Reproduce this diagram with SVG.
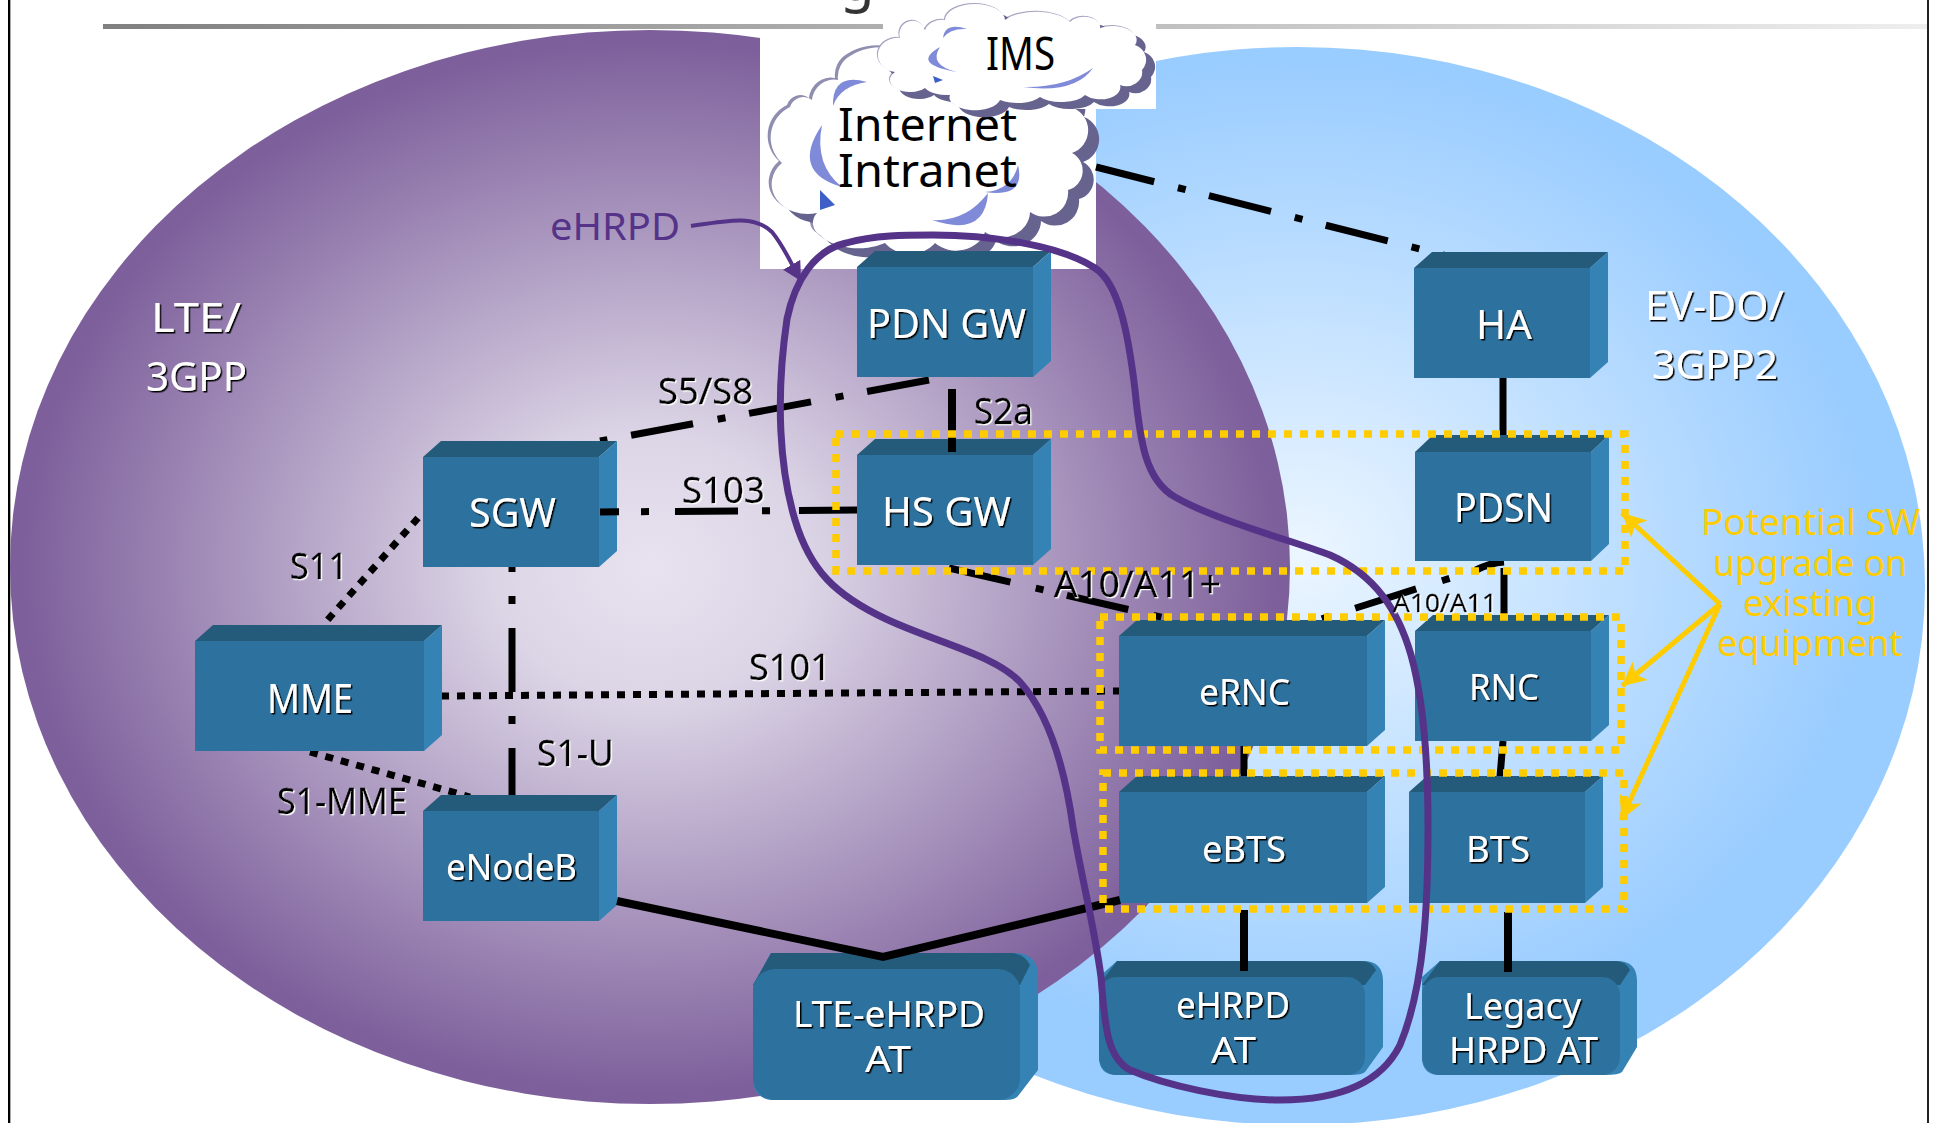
<svg xmlns="http://www.w3.org/2000/svg" xmlns:xlink="http://www.w3.org/1999/xlink" width="1940" height="1123" viewBox="0 0 1940 1123">
<style>
text{font-family:"Noto Sans","Liberation Sans",sans-serif}
.f{fill:#2d729e}.t{fill:#255b7a}.s{fill:#3582b5}
.w{fill:#fff;filter:url(#sb)}
.k{fill:#000;stroke:#000;stroke-width:.3;filter:url(#sw)}
.b{fill:#000}
.y{fill:#ffcc00}
.c{fill:none;stroke:#000;stroke-width:7}
.z{fill:none;stroke:#ffcc00;stroke-width:7.5;stroke-dasharray:8 8}
.ya{fill:none;stroke:#ffcc00;stroke-width:5;marker-end:url(#ah)}
.cr{fill:#7f8ad8}
</style>
<defs>
<radialGradient id="gp" cx="0.5" cy="0.5" r="0.49"><stop offset="0" stop-color="#e8e2f0"/><stop offset="0.25" stop-color="#dcd5e6"/><stop offset="1" stop-color="#7d5f9b"/></radialGradient>
<radialGradient id="gb" cx="0.5" cy="0.47" r="0.46"><stop offset="0" stop-color="#ecf6ff"/><stop offset="1" stop-color="#99ccff"/></radialGradient>
<linearGradient id="gl" gradientUnits="userSpaceOnUse" x1="103" y1="0" x2="1927" y2="0"><stop offset="0" stop-color="#808080"/><stop offset="1" stop-color="#eeeeee"/></linearGradient>
<filter id="sb" x="-10%" y="-20%" width="120%" height="140%"><feDropShadow dx="1.5" dy="1.5" stdDeviation="0" flood-color="#000"/></filter>
<filter id="sw" x="-10%" y="-20%" width="120%" height="140%"><feDropShadow dx="1.2" dy="1.2" stdDeviation="0" flood-color="#fff"/></filter>
<marker id="ah" markerUnits="userSpaceOnUse" markerWidth="26" markerHeight="26" refX="20" refY="10" orient="auto" viewBox="0 0 22 20"><path d="M0 0L20 10L0 20L5 10Z" fill="#ffcc00"/></marker>
<marker id="ap" markerUnits="userSpaceOnUse" markerWidth="20" markerHeight="20" refX="15" refY="8" orient="auto" viewBox="0 0 16 16"><path d="M0 0L15 8L0 16Z" fill="#553388"/></marker>
<path id="cm" d="M817 213A36 30 0 0 1 782 163A34 34 0 0 1 790 107A14 14 0 0 1 812 100A22 22 0 0 1 838 80A24 24 0 0 1 850 56A44 30 0 0 1 890 48L1050 60A40 40 0 0 1 1073 108A24 24 0 0 1 1072 153A20 20 0 0 1 1068 190A24 24 0 0 1 1030 212A28 26 0 0 1 985 232A30 26 0 0 1 935 243A30 24 0 0 1 885 243A44 26 0 0 1 820 235A14 14 0 0 1 817 213Z"/>
<path id="ci" d="M895 72A16 14 0 0 1 900 38A12 12 0 0 1 925 30A18 14 0 0 1 945 20A30 16 0 0 1 1005 20A36 16 0 0 1 1070 22A16 10 0 0 1 1100 28A24 14 0 0 1 1135 45A18 16 0 0 1 1142 70A16 14 0 0 1 1120 85A20 12 0 0 1 1085 95A26 12 0 0 1 1040 97A26 12 0 0 1 1000 100A24 12 0 0 1 950 95A24 12 0 0 1 925 88A20 12 0 0 1 895 72Z"/>
</defs>
<rect width="1940" height="1123" fill="#fff"/>
<rect x="8" y="0" width="2" height="1123" fill="#000"/><rect x="10" y="0" width="1" height="1123" fill="#aaa"/>
<rect x="1927" y="0" width="2" height="1123" fill="#222"/>
<rect x="103" y="24" width="1824" height="5" fill="url(#gl)"/>
<text x="840" y="0" font-size="56" fill="#333">g</text>
<ellipse id="region-evdo" cx="1298" cy="586" rx="627" ry="539" fill="url(#gb)"/>
<ellipse id="region-lte" cx="650" cy="567" rx="640" ry="537" fill="url(#gp)"/>

<g id="cloud-internet">
<rect x="760" y="30" width="336" height="239" fill="#fff"/>
<use xlink:href="#cm" href="#cm" transform="translate(-3,-2)" fill="#8f8db0"/>
<use xlink:href="#cm" href="#cm" transform="translate(11,9)" fill="#66638f"/>
<use xlink:href="#cm" href="#cm" fill="#fff"/>
<path class="cr" d="M822 125Q790 172 842 187Q814 165 822 125Z"/>
<path class="cr" d="M988 193Q985 238 932 220Q966 222 988 193Z"/>
<path class="cr" d="M867 82Q832 72 833 106Q840 86 867 82Z"/>
<path class="cr" d="M1018 165Q1026 198 985 192Q1012 190 1018 165Z"/>
<path d="M820 190L835 205L820 210Z" fill="#3f5fc8"/>
<text x="838" y="141" font-size="46" class="b" textLength="179" lengthAdjust="spacingAndGlyphs">Internet</text>
<text x="838" y="187" font-size="46" class="b" textLength="179" lengthAdjust="spacingAndGlyphs">Intranet</text>
</g>
<g id="cloud-ims">
<rect x="883" y="10" width="273" height="99" fill="#fff"/>
<use xlink:href="#ci" href="#ci" transform="translate(-1,-1)" fill="#a5a3c0"/>
<use xlink:href="#ci" href="#ci" transform="translate(9,7)" fill="#66638f"/>
<use xlink:href="#ci" href="#ci" fill="#fff"/>
<path class="cr" d="M940 47Q910 64 957 72Q928 65 940 47Z"/>
<path class="cr" d="M967 29Q945 22 943 38Q950 28 967 29Z"/>
<path class="cr" d="M1093 68Q1075 94 1023 87Q1065 88 1093 68Z"/>
<path d="M933 76L943 80L935 83Z" fill="#3f5fc8"/>
<text x="986" y="70" font-size="46" class="b" textLength="69" lengthAdjust="spacingAndGlyphs">IMS</text>
</g>

<g id="connectors">
<path class="c" d="M1096 167L1455 258" stroke-dasharray="64 24.5 8 24" stroke-dashoffset="4"/>
<path class="c" d="M929 380L600 441" stroke-dasharray="63 24 8 25"/>
<path class="c" d="M418 518L323 625" stroke-dasharray="8 8"/>
<path class="c" d="M310 752L470 797" stroke-dasharray="8 8"/>
<path class="c" d="M512 812L512 567" stroke-dasharray="64 24 8 24"/>
<path class="c" d="M441 696L1119 691" stroke-dasharray="8 8"/>
<path class="c" d="M949 568L1165 618" stroke-dasharray="63 26 8 24"/>
<path class="c" d="M1504 562Q1490 563 1476 570L1280 632" stroke-dasharray="30 27 8 27 64 27 8 27 64"/>
<path class="c" d="M1504 568V615"/>
<path class="c" d="M1503 378V436"/>
<path class="c" d="M1503 741L1500 777"/>
<path class="c" d="M1244 746V777"/>
</g>

<g id="node-sgw"><polygon class="t" points="423,457 441,441 617,441 599,457"/><polygon class="s" points="599,457 617,441 617,551 599,567"/><rect class="f" x="423" y="457" width="176" height="110"/><text class="w" x="469" y="527" font-size="40" textLength="87" lengthAdjust="spacingAndGlyphs">SGW</text></g>
<g id="node-mme"><polygon class="t" points="195,641 213,625 442,625 424,641"/><polygon class="s" points="424,641 442,625 442,735 424,751"/><rect class="f" x="195" y="641" width="229" height="110"/><text class="w" x="267" y="713" font-size="40" textLength="86" lengthAdjust="spacingAndGlyphs">MME</text></g>
<g id="node-enodeb"><polygon class="t" points="423,811 441,795 617,795 599,811"/><polygon class="s" points="599,811 617,795 617,905 599,921"/><rect class="f" x="423" y="811" width="176" height="110"/><text class="w" x="446" y="880" font-size="36" textLength="131" lengthAdjust="spacingAndGlyphs">eNodeB</text></g>
<g id="node-pdngw"><polygon class="t" points="857,267 875,251 1051,251 1033,267"/><polygon class="s" points="1033,267 1051,251 1051,361 1033,377"/><rect class="f" x="857" y="267" width="176" height="110"/><text class="w" x="867" y="338" font-size="40" textLength="159" lengthAdjust="spacingAndGlyphs">PDN GW</text></g>
<g id="node-hsgw"><polygon class="t" points="857,455 875,439 1051,439 1033,455"/><polygon class="s" points="1033,455 1051,439 1051,549 1033,565"/><rect class="f" x="857" y="455" width="176" height="110"/><text class="w" x="882" y="526" font-size="40" textLength="129" lengthAdjust="spacingAndGlyphs">HS GW</text></g>
<g id="node-ha"><polygon class="t" points="1414,268 1432,252 1608,252 1590,268"/><polygon class="s" points="1590,268 1608,252 1608,362 1590,378"/><rect class="f" x="1414" y="268" width="176" height="110"/><text class="w" x="1476" y="339" font-size="40" textLength="56" lengthAdjust="spacingAndGlyphs">HA</text></g>
<g id="node-pdsn"><polygon class="t" points="1415,452 1433,435 1609,435 1591,452"/><polygon class="s" points="1591,452 1609,435 1609,544 1591,561"/><rect class="f" x="1415" y="452" width="176" height="109"/><text class="w" x="1454" y="522" font-size="40" textLength="99" lengthAdjust="spacingAndGlyphs">PDSN</text></g>
<g id="node-rnc"><polygon class="t" points="1415,631 1433,615 1609,615 1591,631"/><polygon class="s" points="1591,631 1609,615 1609,725 1591,741"/><rect class="f" x="1415" y="631" width="176" height="110"/><text class="w" x="1469" y="700" font-size="36" textLength="70" lengthAdjust="spacingAndGlyphs">RNC</text></g>
<g id="node-ernc"><polygon class="t" points="1119,636 1137,620 1385,620 1367,636"/><polygon class="s" points="1367,636 1385,620 1385,730 1367,746"/><rect class="f" x="1119" y="636" width="248" height="110"/><text class="w" x="1199" y="705" font-size="36" textLength="91" lengthAdjust="spacingAndGlyphs">eRNC</text></g>
<g id="node-ebts"><polygon class="t" points="1119,792 1137,776 1385,776 1367,792"/><polygon class="s" points="1367,792 1385,776 1385,887 1367,903"/><rect class="f" x="1119" y="792" width="248" height="111"/><text class="w" x="1202" y="862" font-size="36" textLength="84" lengthAdjust="spacingAndGlyphs">eBTS</text></g>
<g id="node-bts"><polygon class="t" points="1409,792 1427,776 1603,776 1585,792"/><polygon class="s" points="1585,792 1603,776 1603,887 1585,903"/><rect class="f" x="1409" y="792" width="176" height="111"/><text class="w" x="1466" y="862" font-size="36" textLength="64" lengthAdjust="spacingAndGlyphs">BTS</text></g>
<g id="node-lte-ehrpd-at"><path class="s" d="M771 953H1014Q1038 953 1038 977V1070L1018 1096Q1015 1100 1005 1100H775Q753 1100 753 1078V985Z"/><path class="t" d="M753 985L771 953H1010Q1024 953 1030 965L1020 985Z"/><rect class="f" x="753" y="969" width="267" height="131" rx="22"/><text class="w" x="793" y="1027" font-size="36" textLength="192" lengthAdjust="spacingAndGlyphs">LTE-eHRPD</text><text class="w" x="865" y="1072" font-size="36" textLength="46" lengthAdjust="spacingAndGlyphs">AT</text></g>
<g id="node-ehrpd-at"><path class="s" d="M1117 961H1363Q1383 961 1383 981V1047L1365 1072Q1362 1075 1350 1075H1117Q1099 1075 1099 1057V977Z"/><path class="t" d="M1099 985L1117 961H1360Q1372 961 1376 970L1365 985Z"/><rect class="f" x="1099" y="977" width="266" height="98" rx="18"/><text class="w" x="1176" y="1018" font-size="36" textLength="114" lengthAdjust="spacingAndGlyphs">eHRPD</text><text class="w" x="1211" y="1063" font-size="36" textLength="45" lengthAdjust="spacingAndGlyphs">AT</text></g>
<g id="node-legacy-at"><path class="s" d="M1440 961H1617Q1637 961 1637 981V1047L1622 1072Q1619 1075 1605 1075H1440Q1422 1075 1422 1057V977Z"/><path class="t" d="M1422 985L1440 961H1614Q1626 961 1630 970L1620 985Z"/><rect class="f" x="1422" y="977" width="198" height="98" rx="18"/><text class="w" x="1464" y="1019" font-size="36" textLength="117" lengthAdjust="spacingAndGlyphs">Legacy</text><text class="w" x="1449" y="1063" font-size="36" textLength="149" lengthAdjust="spacingAndGlyphs">HRPD AT</text></g>

<g id="connectors-over">
<path class="c" d="M857 510L600 512" stroke-dasharray="58 29 8 24 63 26 8 22 20"/>
<path class="c" d="M952 389V452" style="stroke-width:8"/>
<path class="c" d="M617 901L883 957L1120 900" style="stroke-width:8"/>
<path class="c" d="M1244 910V971" style="stroke-width:8"/>
<path class="c" d="M1508 912V972" style="stroke-width:8"/>
</g>

<g id="upgrade-boxes">
<rect class="z" x="836" y="434" width="789" height="137"/>
<rect class="z" x="1100" y="617" width="521" height="133"/>
<rect class="z" x="1103" y="773" width="521" height="136"/>
</g>
<g id="upgrade-arrows">
<path class="ya" d="M1720 604L1622 513"/>
<path class="ya" d="M1720 604L1622 686"/>
<path class="ya" d="M1720 604L1621 820"/>
</g>

<g id="ehrpd-outline">
<path fill="none" stroke="#553388" stroke-width="7" d="M933 235C990 235 1060 245 1095 268C1118 283 1128 330 1135 390C1140 440 1145 480 1175 497C1215 520 1290 540 1330 555C1375 575 1398 610 1411 655C1425 705 1428 770 1428 827C1428 900 1425 985 1400 1045C1380 1085 1335 1100 1280 1100C1230 1100 1165 1085 1130 1070C1108 1058 1105 1030 1101 977C1095 930 1082 880 1073 827C1065 770 1050 715 1020 682C995 655 935 642 886 619C835 595 810 570 795 520C780 470 775 400 787 319C795 280 815 250 846 243C875 235 905 235 933 235Z"/>
<path fill="none" stroke="#553388" stroke-width="4" marker-end="url(#ap)" d="M691 226C730 220 755 215 772 232C785 248 790 262 801 281"/>
<text x="550" y="240" font-size="38" fill="#553388" textLength="130" lengthAdjust="spacingAndGlyphs">eHRPD</text>
</g>

<g id="labels">
<text class="w" x="151" y="332" font-size="40" textLength="90" lengthAdjust="spacingAndGlyphs">LTE/</text>
<text class="w" x="146" y="391" font-size="40" textLength="101" lengthAdjust="spacingAndGlyphs">3GPP</text>
<text class="w" x="1645" y="320" font-size="40" textLength="139" lengthAdjust="spacingAndGlyphs">EV-DO/</text>
<text class="w" x="1652" y="379" font-size="40" textLength="126" lengthAdjust="spacingAndGlyphs">3GPP2</text>
<text class="k" x="290" y="579" font-size="36" textLength="58" lengthAdjust="spacingAndGlyphs">S11</text>
<text class="k" x="537" y="766" font-size="36" textLength="77" lengthAdjust="spacingAndGlyphs">S1-U</text>
<text class="k" x="277" y="814" font-size="36" textLength="130" lengthAdjust="spacingAndGlyphs">S1-MME</text>
<text class="k" x="658" y="404" font-size="36" textLength="95" lengthAdjust="spacingAndGlyphs">S5/S8</text>
<text class="k" x="974" y="424" font-size="36" textLength="59" lengthAdjust="spacingAndGlyphs">S2a</text>
<text class="k" x="682" y="503" font-size="36" textLength="83" lengthAdjust="spacingAndGlyphs">S103</text>
<text class="k" x="749" y="680" font-size="36" textLength="82" lengthAdjust="spacingAndGlyphs">S101</text>
<text class="k" x="1054" y="597" font-size="36" textLength="167" lengthAdjust="spacingAndGlyphs">A10/A11+</text>
<text class="k" x="1393" y="612" font-size="26" textLength="104" lengthAdjust="spacingAndGlyphs">A10/A11</text>
<text class="y" x="1701" y="535" font-size="36" textLength="219" lengthAdjust="spacingAndGlyphs">Potential SW</text>
<text class="y" x="1713" y="576" font-size="36" textLength="194" lengthAdjust="spacingAndGlyphs">upgrade on</text>
<text class="y" x="1743" y="616" font-size="36" textLength="134" lengthAdjust="spacingAndGlyphs">existing</text>
<text class="y" x="1717" y="656" font-size="36" textLength="185" lengthAdjust="spacingAndGlyphs">equipment</text>
</g>
</svg>
